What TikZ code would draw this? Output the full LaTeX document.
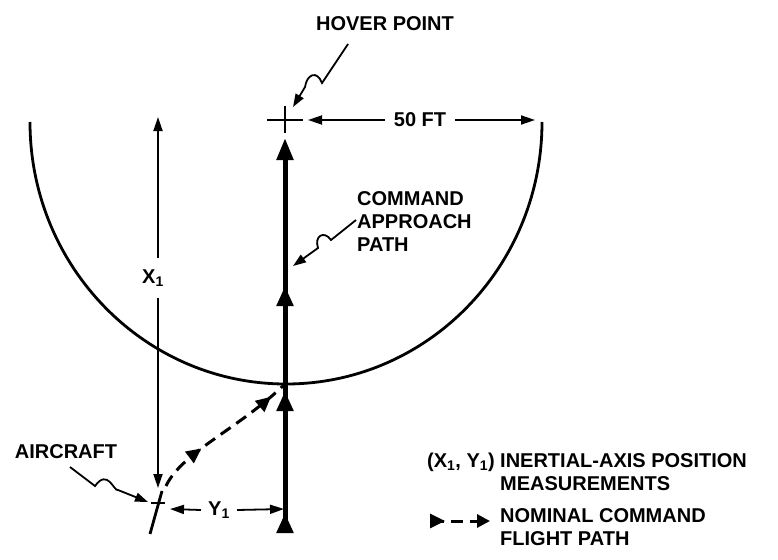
\documentclass[tikz,border=0pt]{standalone}
\usepackage{fontspec}
\setmainfont{Liberation Sans}
\usetikzlibrary{arrows.meta, positioning, calc, decorations.markings}
\tikzset{
    hoverchart/.style={x=1pt, y=-1pt, font=\bfseries\fontsize{20}{23}\selectfont},
    rim/.style={line width=2.8pt},
    approach/.style={line width=5pt, -{Triangle[length=22pt, width=16pt]}},
    % arrow tips along a path: give the distance from its start
    climbmark/.style={postaction={decorate, decoration={markings,
        mark=at position #1 with {\arrow{Triangle[length=20pt, width=16pt]}}}}},
    nominal/.style={line width=3pt, dash pattern=on 12pt off 7pt},
    flightmark/.style={postaction={decorate, decoration={markings,
        mark=at position #1 with {\arrow{Triangle[length=15pt, width=14pt]}}}}},
    dimline/.style={line width=1.8pt, -{Triangle[length=14pt, width=9pt]}},
    pointer/.style={line width=1.8pt, -{Triangle[length=13pt, width=9pt]}},
    tag/.style={inner sep=0pt, align=left},
    dimtag/.style={inner xsep=9pt, inner ysep=11pt},
}

\begin{document}
\begin{tikzpicture}[hoverchart]
    \useasboundingbox (0,0) rectangle (778,559);

    \coordinate (hover)  at (285,120);
    \coordinate (top)    at (285,138);
    \coordinate (meet)   at (285,384);
    \coordinate (base)   at (285,532);
    \coordinate (rimL)   at (30,122);
    \coordinate (craft)  at (158,503);
    \coordinate (x1top)  at (158,117);
    \coordinate (x1bot)  at (158,488);
    \coordinate (y1L)    at (170,509);
    \coordinate (y1R)    at (284,509);
    \coordinate (ftL)    at (308,120);
    \coordinate (ftR)    at (535,120);
    \coordinate (start)  at (166,486);
    \coordinate (keyA)   at (432,521);
    \coordinate (keyB)   at (490,521);

    % labels
    \node[tag]                          (hoverlab) at (385,24)  {HOVER POINT};
    \node[tag, anchor=north west]       (cmdlab)   at (357,191) {COMMAND\\APPROACH\\PATH};
    \node[tag]                          (craftlab) at (66,452)  {AIRCRAFT};
    \node[dimtag]                       (ftlab)    at (420,120) {50 FT};
    \node[dimtag]                       (x1lab)    at (153,278) {X\textsubscript{1}};
    \node[dimtag, inner xsep=7pt]       (y1lab)    at (219,510) {Y\textsubscript{1}};
    \node[tag]                          (keyxy)    at (461,462) {(X\textsubscript{1}, Y\textsubscript{1})};
    \node[tag, anchor=north west]       (measure)  at (500,453) {INERTIAL-AXIS POSITION\\MEASUREMENTS};
    \node[tag, anchor=north west]       (nomtxt)   at (500,508) {NOMINAL COMMAND\\FLIGHT PATH};

    % hover circle and approach path
    \draw[rim] (rimL) arc[start angle=180, end angle=360, x radius=256pt, y radius=262pt];
    \draw[approach, climbmark=19pt, climbmark=141pt, climbmark=246pt] (base) -- (top);
    \draw[line width=2.2pt] ($(hover)+(-18,0)$) -- ($(hover)+(18,0)$)
                            ($(hover)+(0,-14)$) -- ($(hover)+(0,13)$);

    % aircraft
    \draw[line width=2.4pt] ($(craft)+(-7,0)$) -- ($(craft)+(7,0)$);
    \draw[line width=2.8pt] ($(craft)+(-8,31)$) -- ($(craft)+(4,-12)$);
    \draw[nominal, flightmark=0.33, flightmark=0.88]
        (start) .. controls (182,452) and (240,428) .. (meet);

    % dimensions
    \draw[dimline] (ftlab.west) -- (ftL);
    \draw[dimline] (ftlab.east) -- (ftR);
    \draw[dimline] (x1lab.north -| x1top) -- (x1top);
    \draw[dimline] (x1lab.south -| x1top) -- (x1bot);
    \draw[dimline] (y1lab.west) -- (y1L);
    \draw[dimline] (y1lab.east) -- (y1R);

    % pointers
    \draw[pointer] (348,44) -- (322,83) .. controls (317,70) and (307,74) .. (305,87) -- (293,107);
    \draw[pointer] (356,220) -- (331,240) .. controls (324,230) and (314,236) .. (318,248) -- (293,266);
    \draw[pointer] (70,467) -- (95,486) .. controls (108,468) and (114,492) .. (118,490) -- (148,502);

    % legend key
    \draw[nominal, -{Triangle[length=13pt, width=13pt]}, flightmark=13pt] (keyA) -- (keyB);
\end{tikzpicture}
\end{document}
